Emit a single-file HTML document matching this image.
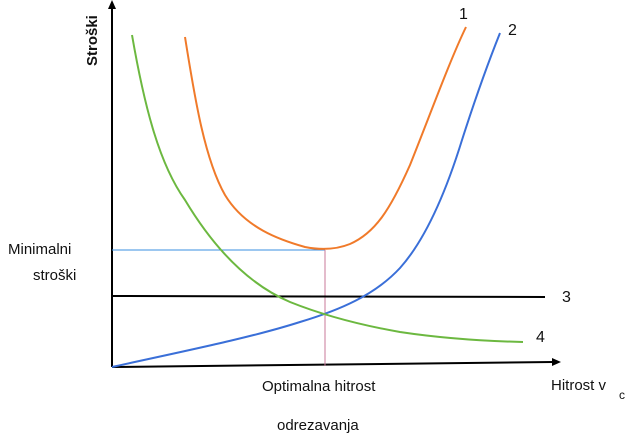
<!DOCTYPE html>
<html><head><style>body{margin:0;background:#fff}svg text{font-family:"Liberation Sans",sans-serif;fill:#111}</style></head>
<body>
<svg width="633" height="440" viewBox="0 0 633 440" xmlns="http://www.w3.org/2000/svg">
<line x1="112" y1="367" x2="112" y2="6" stroke="#000" stroke-width="2"/>
<polygon points="112,0 108,9 116,9" fill="#000"/>
<line x1="112" y1="367" x2="553" y2="362" stroke="#000" stroke-width="2"/>
<polygon points="561,362 552,358 552,366" fill="#000"/>
<line x1="112" y1="250" x2="325" y2="250" stroke="#3a8fe0" stroke-width="1"/>
<line x1="325" y1="250" x2="325" y2="366" stroke="#c87a9a" stroke-width="1"/>
<line x1="112" y1="296" x2="545" y2="297" stroke="#000" stroke-width="2"/>
<path d="M185,37 C195,100 205,160 225,195 C245,228 280,240 305,247 C320,250 335,250 350,244 C375,233 390,210 410,165 C430,115 450,60 466,27" fill="none" stroke="#f07a2a" stroke-width="2"/>
<path d="M112,367 C180,352 250,338 300,322 C340,310 375,295 400,268 C425,240 445,195 462,140 C478,90 490,58 500,33" fill="none" stroke="#3a6fd8" stroke-width="2"/>
<path d="M132,35 C145,110 160,165 185,200 C215,250 250,285 290,302 C325,316 360,325 400,332 C440,338 480,341 523,342" fill="none" stroke="#6cb840" stroke-width="2"/>
<text x="0" y="0" transform="translate(97,66) rotate(-90)" font-size="15" font-weight="bold">Stroški</text>
<text x="8" y="254" font-size="15">Minimalni</text>
<text x="33" y="280" font-size="15">stroški</text>
<text x="262" y="391" font-size="15">Optimalna hitrost</text>
<text x="277" y="430" font-size="15">odrezavanja</text>
<text x="551" y="390" font-size="15">Hitrost v</text>
<text x="619" y="399" font-size="12">c</text>
<text x="459" y="19" font-size="16">1</text>
<text x="508" y="35" font-size="16">2</text>
<text x="562" y="302" font-size="16">3</text>
<text x="536" y="342" font-size="16">4</text>
</svg>
</body></html>
